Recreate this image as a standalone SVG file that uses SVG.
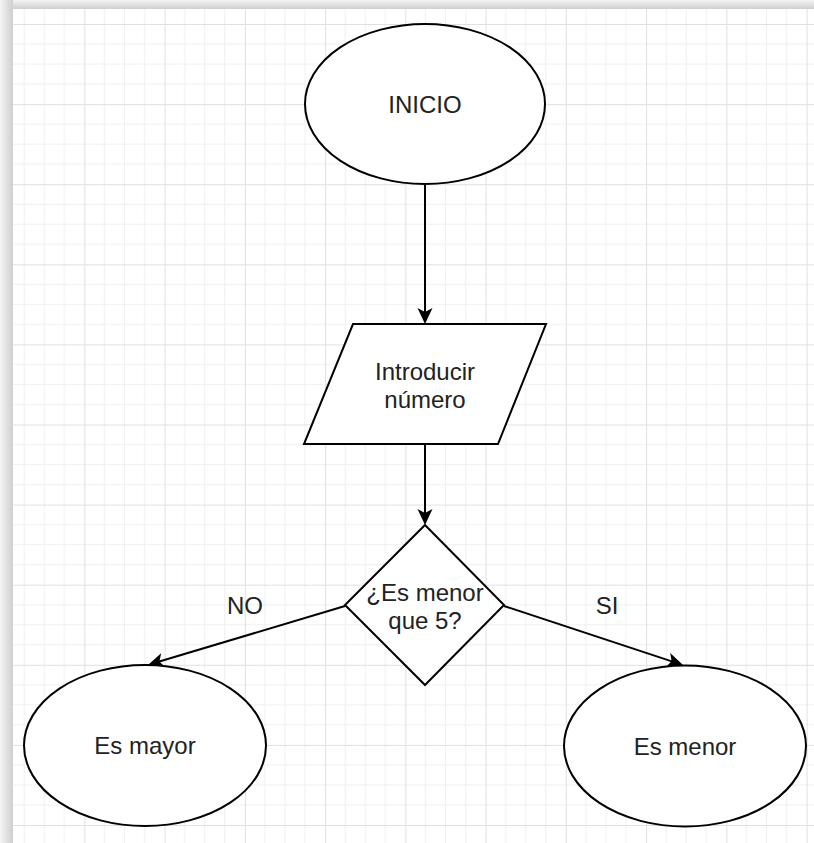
<svg xmlns="http://www.w3.org/2000/svg" width="814" height="843" viewBox="0 0 814 843">
<style>
.shape{fill:#ffffff;stroke:#000000;stroke-width:2}
.conn{fill:none;stroke:#000000;stroke-width:2}
.lbl{font-family:"Liberation Sans",Arial,sans-serif;font-size:24px;fill:#222222;text-anchor:middle}
</style>
<defs>
<pattern id="grid" patternUnits="userSpaceOnUse" x="4.1" y="24" width="80.25" height="80.1">
<path d="M20.06,0V80.1M40.12,0V80.1M60.19,0V80.1M0,20.03H80.25M0,40.05H80.25M0,60.08H80.25" stroke="#f0f0f0" stroke-width="1" fill="none"/>
<path d="M0.5,0V80.1M0,0.5H80.25" stroke="#e0e0e0" stroke-width="1" fill="none"/>
</pattern>
<linearGradient id="shTop" x1="0" y1="0" x2="0" y2="1">
<stop offset="0" stop-color="#f4f4f4"/><stop offset="1" stop-color="#cfcfcf"/>
</linearGradient>
<linearGradient id="shLeft" x1="0" y1="0" x2="1" y2="0">
<stop offset="0" stop-color="#f4f4f4"/><stop offset="1" stop-color="#cfcfcf"/>
</linearGradient>
<marker id="arrow" markerUnits="userSpaceOnUse" viewBox="-6 -9 18 18" markerWidth="18" markerHeight="18" refX="0" refY="0" orient="auto">
<path d="M11,0 L-5,-7.5 L-1,0 L-5,7.5 Z" fill="#000000"/>
</marker>
</defs>
<rect x="0" y="0" width="814" height="843" fill="#ffffff"/>
<rect x="13" y="9" width="801" height="834" fill="url(#grid)"/>
<rect x="0" y="0" width="814" height="9" fill="url(#shTop)"/>
<rect x="0" y="0" width="13" height="843" fill="url(#shLeft)"/>
<g id="connectors">
<line class="conn" x1="425" y1="184" x2="425" y2="313" marker-end="url(#arrow)"/>
<line class="conn" x1="425" y1="444" x2="425" y2="514" marker-end="url(#arrow)"/>
<line class="conn" x1="345" y1="606" x2="158.5" y2="661.8" marker-end="url(#arrow)"/>
<line class="conn" x1="504" y1="606" x2="672.6" y2="661.6" marker-end="url(#arrow)"/>
<text class="lbl" x="245" y="614">NO</text>
<text class="lbl" x="607" y="614">SI</text>
</g>
<g id="inicio">
<ellipse class="shape" cx="425" cy="104" rx="120" ry="80"/>
<text class="lbl" x="425" y="112.5">INICIO</text>
</g>
<g id="introducir">
<polygon class="shape" points="353,324 546,324 498,444 304,444"/>
<text class="lbl" x="425" y="379.5">Introducir</text>
<text class="lbl" x="425" y="408.3">número</text>
</g>
<g id="decision">
<polygon class="shape" points="425,525 504,605 425,685 345,605"/>
<text class="lbl" x="425" y="600.5">¿Es menor</text>
<text class="lbl" x="425" y="629">que 5?</text>
</g>
<g id="es-mayor">
<ellipse class="shape" cx="145" cy="745.5" rx="121" ry="80.5"/>
<text class="lbl" x="145" y="754">Es mayor</text>
</g>
<g id="es-menor">
<ellipse class="shape" cx="685" cy="746" rx="121" ry="80.5"/>
<text class="lbl" x="685" y="754.5">Es menor</text>
</g>
</svg>
